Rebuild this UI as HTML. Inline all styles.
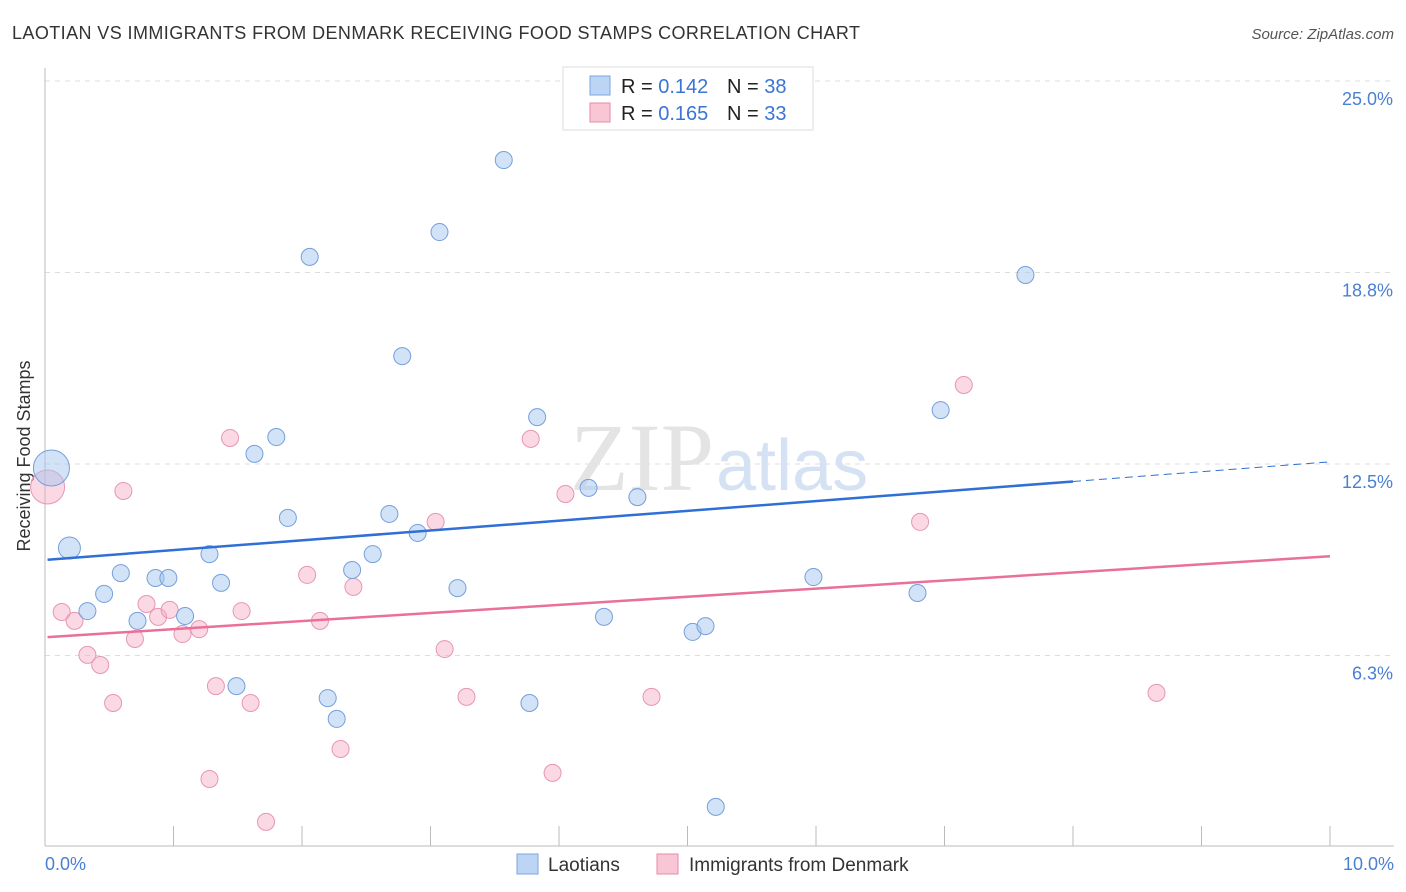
<!DOCTYPE html>
<html><head><meta charset="utf-8"><style>
body{margin:0;background:#fff;font-family:"Liberation Sans",sans-serif}
svg{display:block}
</style></head><body>
<svg width="1406" height="892">
<text x="12" y="39" font-size="18" fill="#333" textLength="848" lengthAdjust="spacing">LAOTIAN VS IMMIGRANTS FROM DENMARK RECEIVING FOOD STAMPS CORRELATION CHART</text>
<text x="1394" y="39" font-size="15" fill="#555" text-anchor="end" font-style="italic">Source: ZipAtlas.com</text>
<g id="grid"></g>
<text x="714" y="490" font-size="96" fill="#e4e4e4" text-anchor="end" font-family="Liberation Serif,serif">ZIP</text>
<text x="716" y="490" font-size="72" fill="#d4e2f4">atlas</text>
<line x1="45" y1="68" x2="45" y2="846" stroke="#bbb"/>
<line x1="45" y1="846" x2="1394" y2="846" stroke="#bbb"/>
<g id="xticks"></g>
<text x="30" y="456" font-size="18" fill="#333" text-anchor="middle" transform="rotate(-90 30 456)">Receiving Food Stamps</text>
<text x="45" y="870" font-size="18" fill="#4a7fd4">0.0%</text>
<text x="1394" y="870" font-size="18" fill="#4a7fd4" text-anchor="end">10.0%</text>
<g id="pts"></g>
<g id="lines"></g>
<g>
<rect x="563" y="67" width="250" height="63" fill="#fff" stroke="#ddd"/>
<rect x="590" y="76" width="20" height="19" fill="#bcd5f5" stroke="#7aa5de"/>
<rect x="590" y="103" width="20" height="19" fill="#f9c6d6" stroke="#e88aa8"/>
<text x="621" y="93" font-size="20" fill="#222">R = <tspan fill="#3a74d4">0.142</tspan></text>
<text x="727" y="93" font-size="20" fill="#222">N = <tspan fill="#3a74d4">38</tspan></text>
<text x="621" y="120" font-size="20" fill="#222">R = <tspan fill="#3a74d4">0.165</tspan></text>
<text x="727" y="120" font-size="20" fill="#222">N = <tspan fill="#3a74d4">33</tspan></text>
</g>
<g>
<rect x="517" y="854" width="21" height="20" fill="#bcd5f5" stroke="#7aa5de"/>
<text x="548" y="871" font-size="19" fill="#333">Laotians</text>
<rect x="657" y="854" width="21" height="20" fill="#f9c6d6" stroke="#e88aa8"/>
<text x="689" y="871" font-size="19" fill="#333">Immigrants from Denmark</text>
</g>
</svg>
<script>
const yTicks=[6.25,12.5,18.75,25];
const yTickLabels=["6.3%","12.5%","18.8%","25.0%"];
const blueX=[0.05,0.19,0.33,0.46,0.59,0.72,0.86,0.96,1.09,1.28,1.37,1.49,1.63,1.80,1.89,2.06,2.20,2.27,2.39,2.55,2.68,2.78,2.90,3.07,3.21,3.57,3.77,3.83,4.23,4.35,4.61,5.04,5.14,5.22,5.98,6.79,6.97,7.63];
const blueY=[12.37,9.76,7.70,8.26,8.94,7.38,8.78,8.78,7.54,9.56,8.62,5.25,12.83,13.38,10.74,19.26,4.86,4.18,9.04,9.56,10.87,16.02,10.25,20.07,8.45,22.42,4.70,14.03,11.72,7.51,11.42,7.02,7.21,1.31,8.81,8.29,14.26,18.67];
const blueR=[18,11];
const pinkX=[0.02,0.13,0.23,0.33,0.43,0.53,0.61,0.70,0.79,0.88,0.97,1.07,1.20,1.33,1.28,1.44,1.53,1.60,1.72,2.04,2.14,2.30,2.40,3.04,3.11,3.28,3.78,3.95,4.05,4.72,6.81,7.15,8.65];
const pinkY=[11.75,7.67,7.38,6.27,5.94,4.70,11.62,6.79,7.93,7.51,7.74,6.95,7.11,5.25,2.22,13.35,7.70,4.70,0.82,8.88,7.38,3.20,8.49,10.61,6.46,4.90,13.32,2.42,11.52,4.90,10.61,15.08,5.03];
const pinkR=[17];
const blueTrend=[9.37,12.57];
const pinkTrend=[6.85,9.49];
const NS="http://www.w3.org/2000/svg";
const sx=v=>45+v*128.5, sy=v=>847-v*30.64;
function mk(t,a,p){const e=document.createElementNS(NS,t);for(const k in a)e.setAttribute(k,a[k]);document.getElementById(p).appendChild(e);return e;}
yTicks.forEach((t,i)=>{
 const l=mk('line',{x1:45,x2:1394,y1:sy(t),y2:sy(t),stroke:'#ddd','stroke-dasharray':'5,5'},'grid');
 
 
 const tx=mk('text',{x:1393,y:sy(t)+24,'font-size':18,fill:'#4a7fd4','text-anchor':'end'},'grid');
 tx.textContent=yTickLabels[i];
 
 
});
for(let k=0;k<=10;k++){
 const l=mk('line',{x1:sx(k),x2:sx(k),y1:826,y2:846,stroke:'#bbb'},'xticks');
 
 
}
pinkX.forEach((x,i)=>{
 const c=mk('circle',{cx:sx(x),cy:sy(pinkY[i]),r:pinkR[i]||8.5,fill:'rgba(246,170,195,0.45)',stroke:'#e896b0','stroke-width':1},'pts');
 
 
});
blueX.forEach((x,i)=>{
 const c=mk('circle',{cx:sx(x),cy:sy(blueY[i]),r:blueR[i]||8.5,fill:'rgba(165,198,240,0.5)',stroke:'#74a0dc','stroke-width':1},'pts');
 
 
});
const bAt=x=>blueTrend[0]+(blueTrend[1]-blueTrend[0])*x/10;
let l1=mk('line',{x1:sx(0.02),y1:sy(bAt(0.02)),x2:sx(8),y2:sy(bAt(8)),stroke:'#2f6fd6','stroke-width':2.5},'lines');


let l2=mk('line',{x1:sx(8),y1:sy(bAt(8)),x2:sx(10),y2:sy(bAt(10)),stroke:'#2f6fd6','stroke-width':1,'stroke-dasharray':'8,5'},'lines');


let l3=mk('line',{x1:sx(0.02),y1:sy(pinkTrend[0]),x2:sx(10),y2:sy(pinkTrend[1]),stroke:'#e8709a','stroke-width':2.5},'lines');


</script>
</body></html>
